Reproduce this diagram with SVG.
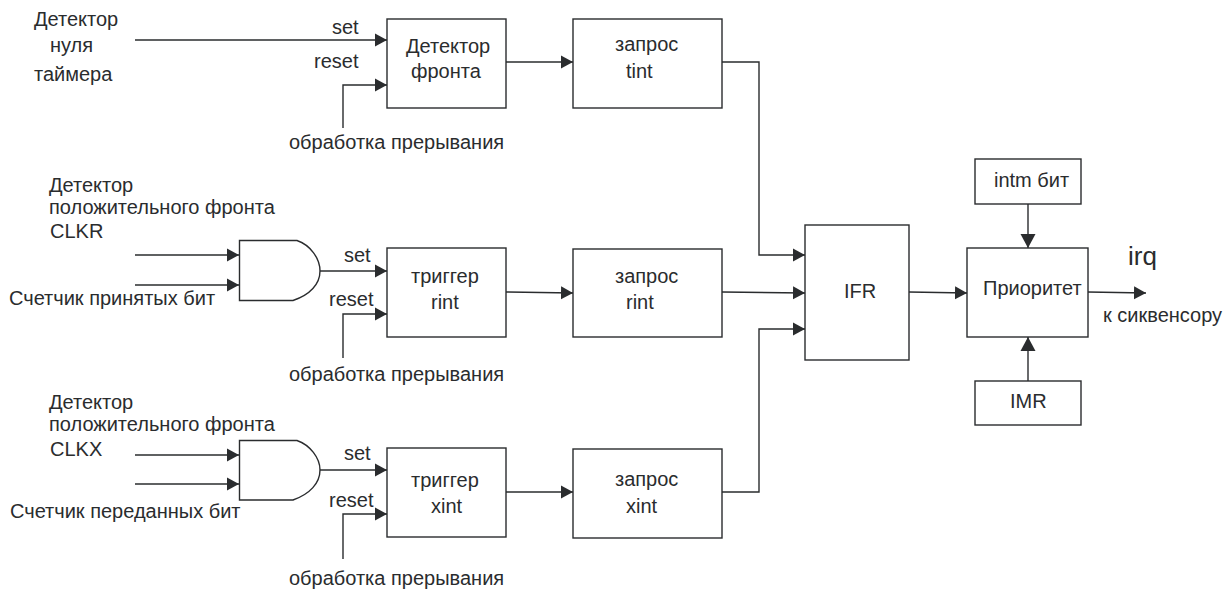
<svg xmlns="http://www.w3.org/2000/svg" width="1227" height="589" viewBox="0 0 1227 589">
<style>
text{font-family:"Liberation Sans",Arial,sans-serif;font-size:20px;fill:#2a2c2e}
.b{fill:#fff;stroke:#2a2c2e;stroke-width:1.4}
.w{fill:none;stroke:#2a2c2e;stroke-width:1.4;marker-end:url(#a)}
.v{fill:none;stroke:#2a2c2e;stroke-width:1.4;marker-end:url(#c)}
</style>
<defs>
<marker id="a" markerUnits="userSpaceOnUse" markerWidth="13" markerHeight="15" refX="12" refY="7" orient="auto"><path d="M0 0.500L12 7L0 13.500Z" fill="#2a2c2e"/></marker>
<marker id="c" markerUnits="userSpaceOnUse" markerWidth="15" markerHeight="17" refX="14" refY="8" orient="auto"><path d="M0 0.500L14 8L0 15.500Z" fill="#2a2c2e"/></marker>
</defs>
<rect width="1227" height="589" fill="#fff"/>
<g id="connectors">
<path class="w" d="M135 40H387"/>
<path class="w" d="M343 128V85H387"/>
<path class="w" d="M506 62H573"/>
<path class="w" d="M722 62H759V255H805"/>
<path class="w" d="M135 255H239"/>
<path class="w" d="M135 285H239"/>
<path class="w" d="M320 271H387"/>
<path class="w" d="M343 358V314H387"/>
<path class="w" d="M506 292L573 293"/>
<path class="w" d="M722 292L805 293"/>
<path class="w" d="M135 455H239"/>
<path class="w" d="M135 484H239"/>
<path class="w" d="M320 470H387"/>
<path class="w" d="M343 559V514H387"/>
<path class="w" d="M506 492H573"/>
<path class="w" d="M722 492H759V329H805"/>
<path class="w" d="M909 292L967 293"/>
<path class="w" d="M1088 292L1146 293"/>
<path class="v" d="M1028 204V248"/>
<path class="v" d="M1028 381V337"/>
</g>
<g id="src1"><text x="34" y="26">Детектор</text><text x="50" y="52">нуля</text><text x="34" y="81">таймера</text></g>
<g id="lbl1"><text x="332" y="34">set</text><text x="314" y="68">reset</text><text x="289" y="149">обработка прерывания</text></g>
<g id="n-edge"><rect class="b" x="387" y="19" width="119" height="89"/><text x="406" y="53">Детектор</text><text x="411" y="78">фронта</text></g>
<g id="n-tint"><rect class="b" x="573" y="19" width="149" height="89"/><text x="615" y="51">запрос</text><text x="626" y="78">tint</text></g>
<g id="src2"><text x="49" y="192">Детектор</text><text x="49" y="214">положительного фронта</text><text x="50" y="238">CLKR</text><text x="9" y="305">Счетчик принятых бит</text></g>
<g id="and1"><path class="b" d="M239.500 240.500H297C310 245 320 258 320 271C320 284 310 295 293 300.500H239.500Z"/></g>
<g id="lbl2"><text x="344" y="262">set</text><text x="329" y="306">reset</text><text x="289" y="381">обработка прерывания</text></g>
<g id="n-rint-t"><rect class="b" x="387" y="248" width="119" height="89"/><text x="411" y="283">триггер</text><text x="431" y="309">rint</text></g>
<g id="n-rint"><rect class="b" x="573" y="249" width="149" height="88"/><text x="615" y="283">запрос</text><text x="626" y="309">rint</text></g>
<g id="src3"><text x="49" y="409">Детектор</text><text x="49" y="431">положительного фронта</text><text x="50" y="456">CLKX</text><text x="10" y="518">Счетчик переданных бит</text></g>
<g id="and2"><path class="b" d="M239.500 440.500H297C310 445 320 458 320 470C320 483 310 494 293 500H239.500Z"/></g>
<g id="lbl3"><text x="344" y="460">set</text><text x="329" y="507">reset</text><text x="289" y="585">обработка прерывания</text></g>
<g id="n-xint-t"><rect class="b" x="387" y="448" width="119" height="89"/><text x="411" y="487">триггер</text><text x="431" y="513">xint</text></g>
<g id="n-xint"><rect class="b" x="573" y="449" width="149" height="89"/><text x="615" y="486">запрос</text><text x="626" y="513">xint</text></g>
<g id="n-ifr"><rect class="b" x="805" y="225" width="104" height="135"/><text x="844" y="298">IFR</text></g>
<g id="n-prio"><rect class="b" x="967" y="248" width="121" height="89"/><text x="983" y="295">Приоритет</text></g>
<g id="n-intm"><rect class="b" x="975" y="159" width="106" height="45"/><text x="994" y="187">intm бит</text></g>
<g id="n-imr"><rect class="b" x="975" y="381" width="106" height="44"/><text x="1010" y="408">IMR</text></g>
<g id="out"><text x="1128" y="265" style="font-size:26px">irq</text><text x="1103" y="322">к сиквенсору</text></g>
</svg>
